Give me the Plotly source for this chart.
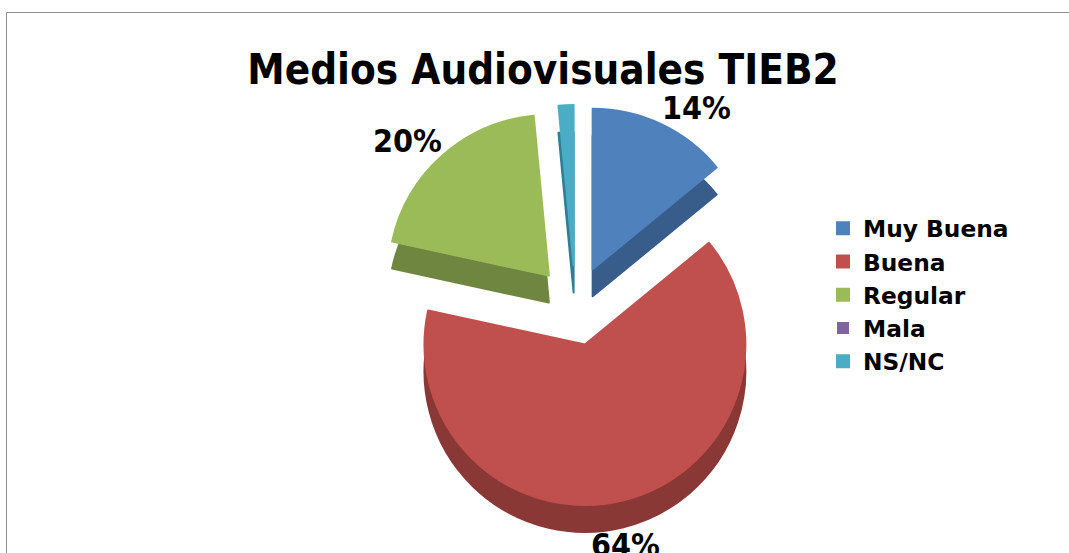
import plotly.graph_objects as go

W, H = 1069, 553

categories = ['Muy Buena', 'Buena', 'Regular', 'Mala', 'NS/NC']
values = [14, 64, 20, 0, 1.5]
pct_labels = ['14%', '64%', '20%']
top_colors = ['#4F81BD', '#C0504D', '#9BBB59', '#8064A2', '#4BACC6']
side_colors = ['#385D8A', '#8A3836', '#6F8640', '#5C4776', '#2F7F94']

PULL = 0.25
FONT = 'DejaVu Sans Condensed'
EDGE = [2, 2, 2, 0, 2]  # the empty Mala slice must not leave a hairline


def pie_domain(dy=0):
    # pixel box of the pie -> paper fractions
    return dict(
        x=[375 / W, 776 / W],
        y=[1 - (506 + dy) / H, 1 - (105 + dy) / H],
    )


fig = go.Figure()

# darker copy shifted down gives the 3D rim
fig.add_trace(go.Pie(
    labels=categories,
    values=values,
    sort=False,
    direction='clockwise',
    rotation=0,
    pull=PULL,
    domain=pie_domain(27),
    marker=dict(colors=side_colors, line=dict(color=side_colors, width=EDGE)),
    textinfo='none',
    hoverinfo='skip',
    showlegend=False,
))

fig.add_trace(go.Pie(
    labels=categories,
    values=values,
    sort=False,
    direction='clockwise',
    rotation=0,
    pull=PULL,
    domain=pie_domain(),
    marker=dict(colors=top_colors, line=dict(color=top_colors, width=EDGE)),
    textinfo='none',
    automargin=False,
))

# percent labels sit where the original placed them, not on the slices
label_pos = [(696, 108), (625, 545), (407, 141)]
for txt, (px, py) in zip(pct_labels, label_pos):
    fig.add_annotation(
        text=f'<b>{txt}</b>',
        xref='paper', yref='paper',
        x=px / W, y=1 - py / H,
        xanchor='center', yanchor='middle',
        showarrow=False,
        font=dict(family=FONT, size=32, color='#000000'),
    )

fig.update_layout(
    width=W,
    height=H,
    paper_bgcolor='#FFFFFF',
    plot_bgcolor='#FFFFFF',
    margin=dict(l=0, r=0, t=0, b=0),
    title=dict(
        text='<b>Medios Audiovisuales TIEB2</b>',
        font=dict(family=FONT, size=41.8, color='#000000'),
        x=543 / W,
        xanchor='center',
        y=1 - 69 / H,
        yanchor='middle',
    ),
    legend=dict(
        x=823 / W,
        xanchor='left',
        y=1 - 295 / H,
        yanchor='middle',
        font=dict(family='DejaVu Sans', size=23.3, color='#000000', weight='bold'),
        bgcolor='rgba(0,0,0,0)',
        traceorder='normal',
    ),
    shapes=[
        dict(type='line', xref='paper', yref='paper', x0=6.5 / W, x1=1, y0=1 - 12.5 / H, y1=1 - 12.5 / H,
             line=dict(color='#8C8C8C', width=1)),
        dict(type='line', xref='paper', yref='paper', x0=6.5 / W, x1=6.5 / W, y0=0, y1=1 - 12.5 / H,
             line=dict(color='#8C8C8C', width=1)),
    ],
)

fig.write_html('out.html', config=dict(displayModeBar=False), post_script='document.body.style.margin = "0";')
